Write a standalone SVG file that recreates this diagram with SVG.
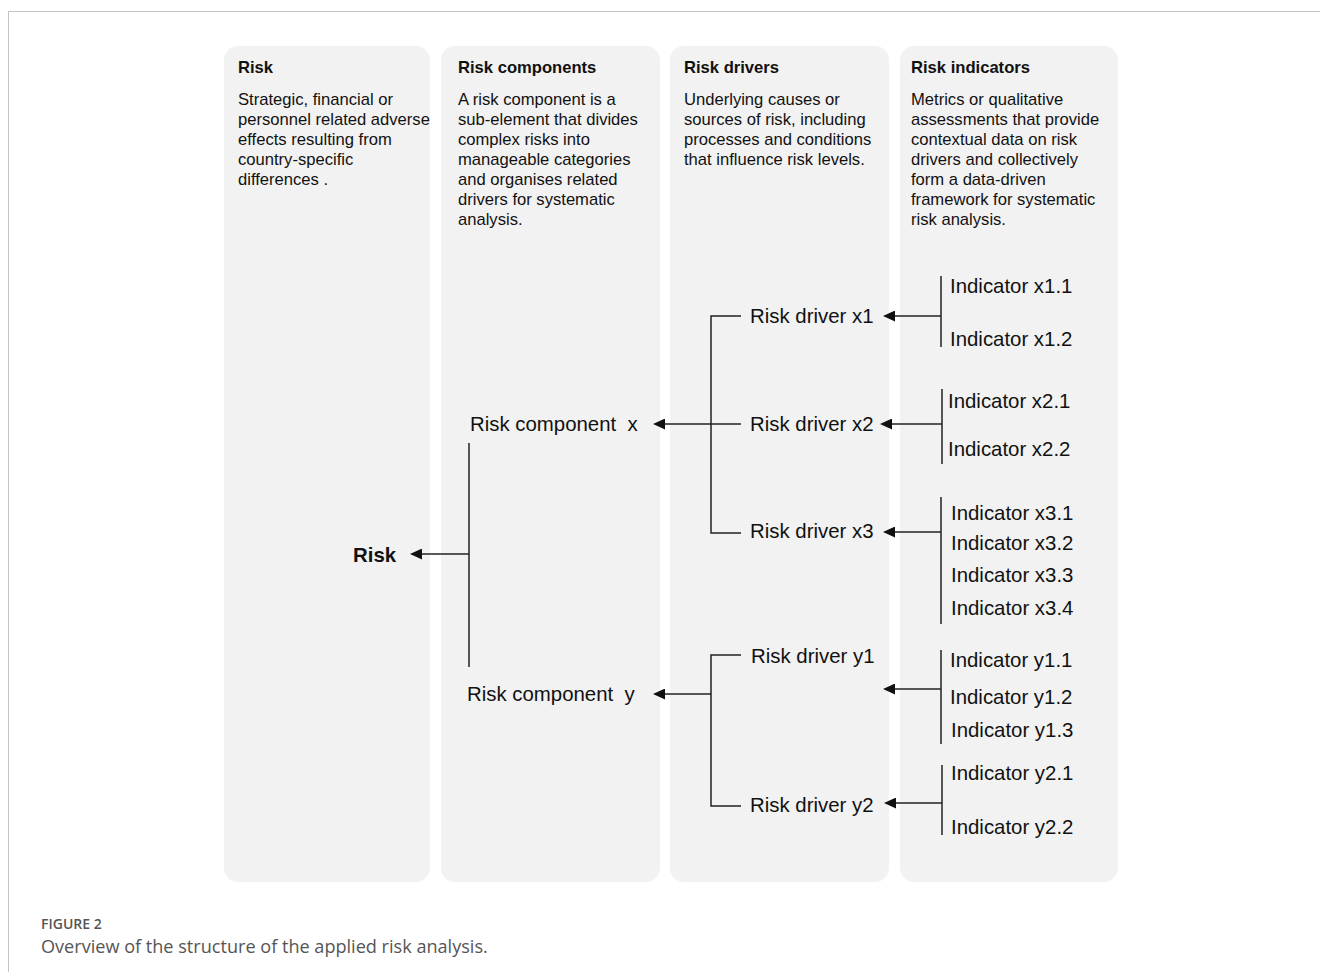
<svg xmlns="http://www.w3.org/2000/svg" width="1320" height="972" viewBox="0 0 1320 972">
<style>
.col{fill:#f2f2f2}
.h{font-family:"Liberation Sans",Arial,sans-serif;font-size:16.6px;font-weight:bold;fill:#111}
.d{font-family:"Liberation Sans",Arial,sans-serif;font-size:16.6px;fill:#111}
.n{font-family:"Liberation Sans",Arial,sans-serif;font-size:20.4px;fill:#111}
.nb{font-family:"Liberation Sans",Arial,sans-serif;font-size:20.4px;font-weight:bold;fill:#111}
.c{fill:none;stroke:#222;stroke-width:1.5}
.cap1{font-family:"Open Sans",sans-serif;font-size:14px;font-weight:600;fill:#555}
.cap2{font-family:"Open Sans",sans-serif;font-size:18.1px;fill:#555}
</style>
<defs>
<marker id="ah" viewBox="0 0 12 11" refX="0" refY="5.5" markerWidth="12" markerHeight="11" markerUnits="userSpaceOnUse" orient="auto-start-reverse">
<path d="M0,0 L12,5.5 L0,11 z" fill="#111"/>
</marker>
</defs>
<rect x="8.5" y="11.5" width="1400" height="1000" fill="#fff" stroke="#c4c4c4" stroke-width="1"/>

<g id="columns">
<rect class="col" x="224" y="46" width="206" height="836" rx="14"/>
<rect class="col" x="441" y="46" width="219" height="836" rx="14"/>
<rect class="col" x="670" y="46" width="219" height="836" rx="14"/>
<rect class="col" x="900" y="46" width="218" height="836" rx="14"/>
</g>

<g id="col-risk">
<text class="h" x="238" y="73">Risk</text>
<text class="d" x="238" y="105">Strategic, financial or</text>
<text class="d" x="238" y="125">personnel related adverse</text>
<text class="d" x="238" y="145">effects resulting from</text>
<text class="d" x="238" y="165">country-specific</text>
<text class="d" x="238" y="185">differences .</text>
</g>
<g id="col-components">
<text class="h" x="458" y="73">Risk components</text>
<text class="d" x="458" y="105">A risk component is a</text>
<text class="d" x="458" y="125">sub-element that divides</text>
<text class="d" x="458" y="145">complex risks into</text>
<text class="d" x="458" y="165">manageable categories</text>
<text class="d" x="458" y="185">and organises related</text>
<text class="d" x="458" y="205">drivers for systematic</text>
<text class="d" x="458" y="225">analysis.</text>
</g>
<g id="col-drivers">
<text class="h" x="684" y="73">Risk drivers</text>
<text class="d" x="684" y="105">Underlying causes or</text>
<text class="d" x="684" y="125">sources of risk, including</text>
<text class="d" x="684" y="145">processes and conditions</text>
<text class="d" x="684" y="165">that influence risk levels.</text>
</g>
<g id="col-indicators">
<text class="h" x="911" y="73">Risk indicators</text>
<text class="d" x="911" y="105">Metrics or qualitative</text>
<text class="d" x="911" y="125">assessments that provide</text>
<text class="d" x="911" y="145">contextual data on risk</text>
<text class="d" x="911" y="165">drivers and collectively</text>
<text class="d" x="911" y="185">form a data-driven</text>
<text class="d" x="911" y="205">framework for systematic</text>
<text class="d" x="911" y="225">risk analysis.</text>
</g>

<g id="connectors">
<path class="c" d="M469,443 V667"/>
<path class="c" d="M469,554 H422" marker-end="url(#ah)"/>
<path class="c" d="M741,316 H711 V533 H741"/>
<path class="c" d="M741,424 H665" marker-end="url(#ah)"/>
<path class="c" d="M741,655 H711 V806 H741"/>
<path class="c" d="M711,694 H665" marker-end="url(#ah)"/>
<path class="c" d="M941,276 V347"/>
<path class="c" d="M941,316 H895" marker-end="url(#ah)"/>
<path class="c" d="M942,389 V464"/>
<path class="c" d="M942,424 H892" marker-end="url(#ah)"/>
<path class="c" d="M941,497 V624"/>
<path class="c" d="M941,532 H895" marker-end="url(#ah)"/>
<path class="c" d="M941,650 V744"/>
<path class="c" d="M941,689 H895" marker-end="url(#ah)"/>
<path class="c" d="M942,765 V835"/>
<path class="c" d="M942,803 H896" marker-end="url(#ah)"/>
</g>

<g id="node-risk"><text class="nb" x="353" y="562">Risk</text></g>
<g id="node-comp-x"><text class="n" x="470" y="431" xml:space="preserve">Risk component  x</text></g>
<g id="node-comp-y"><text class="n" x="467" y="701" xml:space="preserve">Risk component  y</text></g>
<g id="node-driver-x1"><text class="n" x="750" y="323">Risk driver x1</text></g>
<g id="node-driver-x2"><text class="n" x="750" y="431">Risk driver x2</text></g>
<g id="node-driver-x3"><text class="n" x="750" y="538">Risk driver x3</text></g>
<g id="node-driver-y1"><text class="n" x="751" y="663">Risk driver y1</text></g>
<g id="node-driver-y2"><text class="n" x="750" y="812">Risk driver y2</text></g>
<g id="node-ind-x1"><text class="n" x="950" y="293">Indicator x1.1</text><text class="n" x="950" y="346">Indicator x1.2</text></g>
<g id="node-ind-x2"><text class="n" x="948" y="408">Indicator x2.1</text><text class="n" x="948" y="456">Indicator x2.2</text></g>
<g id="node-ind-x3"><text class="n" x="951" y="520">Indicator x3.1</text><text class="n" x="951" y="550">Indicator x3.2</text><text class="n" x="951" y="582">Indicator x3.3</text><text class="n" x="951" y="615">Indicator x3.4</text></g>
<g id="node-ind-y1"><text class="n" x="950" y="667">Indicator y1.1</text><text class="n" x="950" y="704">Indicator y1.2</text><text class="n" x="951" y="737">Indicator y1.3</text></g>
<g id="node-ind-y2"><text class="n" x="951" y="780">Indicator y2.1</text><text class="n" x="951" y="834">Indicator y2.2</text></g>

<g id="caption">
<text class="cap1" x="41" y="929">FIGURE 2</text>
<text class="cap2" x="41" y="953">Overview of the structure of the applied risk analysis.</text>
</g>
</svg>
